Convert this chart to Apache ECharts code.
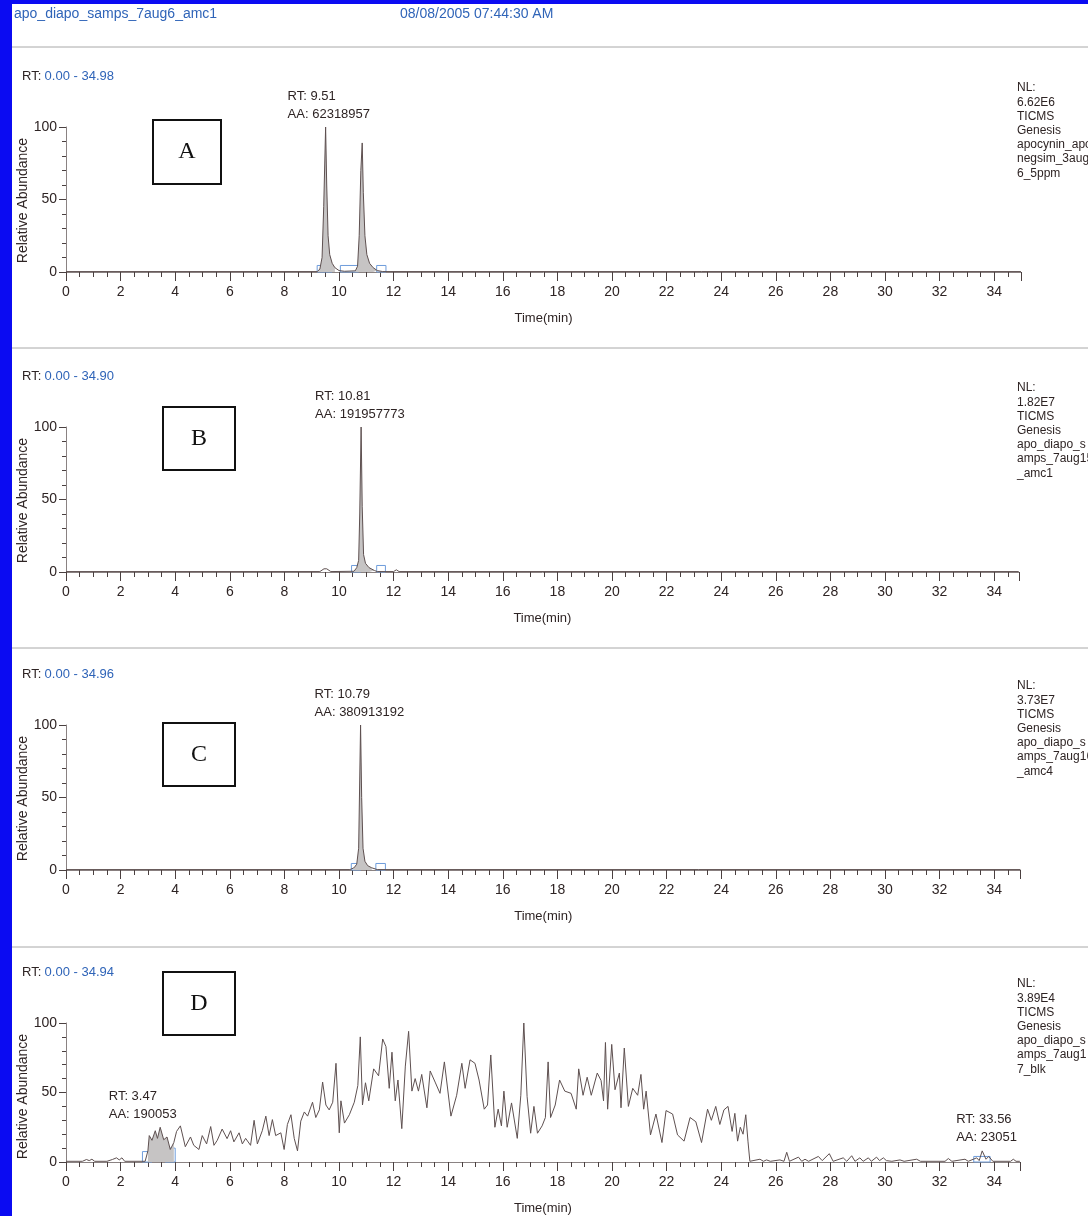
<!DOCTYPE html>
<html>
<head>
<meta charset="utf-8">
<title>TIC chromatograms</title>
<style>
  html, body { margin: 0; padding: 0; background: #fff; }
  #chart { width: 1088px; height: 1216px; }
</style>
<script src="https://cdn.jsdelivr.net/npm/echarts@6/dist/echarts.min.js"></script>
</head>
<body>
<div id="chart"></div>
<script>
// ---- data ----
const panelNames = ['A', 'B', 'C', 'D']
const rtRanges = [34.98, 34.90, 34.96, 34.94]

// [time (min), relative abundance]
const traceA = [[0, 0.3], [9.2, 0.3], [9.3, 2], [9.38, 10], [9.44, 45], [9.51, 100], [9.55, 60], [9.6, 25], [9.66, 12],
  [9.75, 6], [9.85, 3], [10.0, 1], [10.2, 0.5], [10.6, 0.8], [10.68, 4], [10.74, 25], [10.8, 70], [10.85, 89],
  [10.89, 55], [10.95, 25], [11.02, 12], [11.12, 6], [11.25, 3], [11.4, 1], [11.6, 0.3], [34.98, 0.3]]
const traceB = [[0, 0.3], [9.3, 0.3], [9.45, 2.2], [9.55, 2.2], [9.7, 0.3], [10.55, 0.5], [10.65, 3], [10.72, 8],
  [10.76, 40], [10.81, 100], [10.85, 45], [10.9, 12], [10.97, 6], [11.1, 3], [11.3, 1], [11.4, 0.3], [12.0, 0.3],
  [12.1, 1.5], [12.2, 0.3], [34.9, 0.3]]
const traceC = [[0, 0.3], [10.4, 0.3], [10.55, 1.5], [10.65, 4], [10.72, 15], [10.79, 100], [10.83, 50], [10.88, 15],
  [10.95, 6], [11.05, 3], [11.2, 1.5], [11.4, 0.3], [34.96, 0.3]]
const traceD = [[0, 0.5], [0.6, 0.5], [0.75, 1.8], [0.85, 1], [0.95, 2], [1.05, 0.5], [1.5, 0.5], [1.7, 1.8], [1.85, 3],
  [1.95, 1.5], [2.05, 3], [2.15, 0.5], [2.9, 0.5], [3.0, 8], [3.05, 19], [3.15, 15.6], [3.27, 22.5], [3.35, 17],
  [3.45, 25], [3.58, 16], [3.7, 18], [3.82, 9], [3.95, 14], [4.05, 22], [4.19, 26], [4.37, 11], [4.56, 18], [4.68, 12],
  [4.87, 9], [4.99, 19], [5.15, 13], [5.3, 25.5], [5.42, 12], [5.54, 15.6], [5.72, 23.7], [5.9, 16.8], [6.03, 22.5],
  [6.15, 14.5], [6.34, 21], [6.46, 13], [6.58, 17], [6.76, 12], [6.89, 30], [7.01, 13], [7.19, 22.5], [7.32, 33],
  [7.44, 19], [7.56, 30.5], [7.68, 19], [7.87, 21], [7.99, 9], [8.11, 27], [8.24, 34], [8.36, 17], [8.48, 8],
  [8.6, 29.4], [8.73, 36], [8.85, 33], [9.03, 43], [9.15, 32], [9.28, 37.5], [9.4, 57.5], [9.52, 41], [9.64, 37.5],
  [9.77, 43], [9.89, 71], [10.01, 21], [10.07, 44], [10.2, 28], [10.38, 34], [10.56, 43], [10.69, 55], [10.78, 90],
  [10.86, 41], [10.97, 57], [11.09, 44], [11.27, 67], [11.45, 62], [11.6, 88.5], [11.72, 83], [11.84, 53],
  [11.94, 79], [12.06, 44], [12.16, 59], [12.3, 24], [12.43, 69], [12.55, 94], [12.67, 51], [12.79, 60], [12.91, 51],
  [13.03, 63], [13.22, 39], [13.34, 65.5], [13.52, 57.5], [13.7, 49.4], [13.86, 72], [14.1, 33], [14.31, 48],
  [14.5, 71], [14.62, 53], [14.8, 73.5], [14.98, 71], [15.13, 59], [15.32, 38], [15.44, 41], [15.56, 77], [15.71, 25],
  [15.83, 38], [15.95, 26], [16.04, 51], [16.16, 25], [16.32, 42.5], [16.53, 17], [16.66, 48], [16.77, 100],
  [16.89, 47], [17.02, 20.7], [17.14, 40], [17.27, 20.7], [17.44, 26], [17.56, 32], [17.66, 72], [17.75, 32],
  [17.92, 41], [18.08, 59], [18.27, 51], [18.5, 49.4], [18.69, 38], [18.78, 67], [18.94, 48], [19.09, 61], [19.24, 48],
  [19.46, 64], [19.6, 58.6], [19.69, 44], [19.76, 86], [19.84, 38], [19.99, 84.6], [20.11, 52], [20.27, 64],
  [20.33, 39], [20.45, 82], [20.6, 40], [20.76, 53], [20.94, 48], [21.06, 63], [21.16, 38], [21.25, 51], [21.41, 19.5],
  [21.61, 34.5], [21.83, 14], [21.98, 37], [22.22, 34.5], [22.4, 19.5], [22.64, 15], [22.86, 32], [23.07, 29],
  [23.28, 14], [23.5, 38], [23.64, 30], [23.8, 40], [23.95, 27], [24.1, 37.5], [24.25, 40], [24.4, 22], [24.5, 35],
  [24.6, 15], [24.7, 25], [24.8, 20], [24.9, 34], [24.98, 15], [25.05, 0.5], [25.42, 2], [25.55, 0.5], [25.66, 1.5],
  [25.8, 0.5], [26.15, 1.5], [26.3, 0.5], [26.4, 7], [26.5, 0.5], [26.83, 3.5], [26.95, 0.5], [27.07, 2], [27.2, 0.5],
  [27.56, 4], [27.7, 1], [27.96, 6], [28.1, 0.5], [28.47, 3], [28.6, 0.5], [28.78, 4.5], [28.9, 0.5], [29.08, 3],
  [29.2, 0.5], [29.39, 3], [29.5, 0.5], [29.69, 3.5], [29.8, 1], [29.94, 3], [30.05, 1], [30.12, 2], [30.25, 0.5],
  [30.55, 1.5], [30.7, 0.5], [31.16, 2], [31.3, 0.5], [32.2, 0.5], [32.32, 2.5], [32.45, 0.5], [32.93, 2], [33.05, 0.5],
  [33.36, 3], [33.45, 1], [33.56, 8], [33.7, 2], [33.8, 4], [33.95, 0.5], [34.6, 0.5], [34.7, 2], [34.8, 0.5],
  [34.94, 0.5]]

// shaded (integrated) peak ranges [from, to]
const fillA = [[9.2, 9.9], [10.6, 11.45]]
const fillB = [[10.55, 11.35]]
const fillC = [[10.55, 11.35]]
const fillD = [[2.95, 3.95]]

// integration markers [from, to, height]
const boxesA = [[9.2, 9.75, 4.5], [10.05, 10.72, 4.5], [11.38, 11.72, 4.5]]
const boxesB = [[10.46, 10.8, 4.5], [11.38, 11.7, 4.5]]
const boxesC = [[10.45, 10.8, 4.5], [11.35, 11.7, 4.5]]
const boxesD = [[2.8, 3.15, 7.5], [3.63, 4.0, 10], [33.25, 33.85, 4]]

// peak notes [rt, abundance at peak, line 1, line 2]
const notesA = [[9.51, 100, 'RT: 9.51', 'AA: 62318957']]
const notesB = [[10.81, 100, 'RT: 10.81', 'AA: 191957773']]
const notesC = [[10.79, 100, 'RT: 10.79', 'AA: 380913192']]
const notesD = [[3.47, 25, 'RT: 3.47', 'AA: 190053'], [33.56, 8, 'RT: 33.56', 'AA: 23051']]

const infoA = ['NL:', '6.62E6', 'TICMS', 'Genesis', 'apocynin_apoci', 'negsim_3aug0', '6_5ppm']
const infoB = ['NL:', '1.82E7', 'TICMS', 'Genesis', 'apo_diapo_s', 'amps_7aug15', '_amc1']
const infoC = ['NL:', '3.73E7', 'TICMS', 'Genesis', 'apo_diapo_s', 'amps_7aug16', '_amc4']
const infoD = ['NL:', '3.89E4', 'TICMS', 'Genesis', 'apo_diapo_s', 'amps_7aug1', '7_blk']

const headerFile = 'apo_diapo_samps_7aug6_amc1'
const headerDate = '08/08/2005 07:44:30 AM'
const yName = 'Relative Abundance'

// ---- layout ----
const FONT = "'Liberation Sans Narrow', 'Arial Narrow', 'Liberation Sans', Arial, sans-serif"
const DARK = '#2e2424'
const BLUE_TXT = '#2f64b8'
const pxPerMin = 27.3
const plotLeft = 66
const plotTops = [127, 427, 725, 1023]
const plotH = 145
const letterBoxes = [[153, 120, 68, 64], [163, 407, 72, 63], [163, 723, 72, 63], [163, 972, 72, 63]]
const noteShift = [[-38], [-46], [-46], [-52, -26]]
const separators = [47, 348, 648, 947]

const traces = [traceA, traceB, traceC, traceD]
const fills = [fillA, fillB, fillC, fillD]
const boxes = [boxesA, boxesB, boxesC, boxesD]
const notes = [notesA, notesB, notesC, notesD]
const infos = [infoA, infoB, infoC, infoD]

const chart = echarts.init(document.getElementById('chart'))

let grids = [], xAxes = [], yAxes = [], series = []
panelNames.forEach((name, i) => {
  grids.push({ left: plotLeft, top: plotTops[i], width: rtRanges[i] * pxPerMin, height: plotH })
  xAxes.push({
    gridIndex: i, type: 'value', min: 0, max: rtRanges[i], interval: 2,
    name: 'Time(min)', nameLocation: 'middle', nameGap: 40,
    nameTextStyle: { color: DARK, fontSize: 13, fontFamily: FONT },
    axisLine: { onZero: false, lineStyle: { color: '#8a8282', width: 1 } },
    axisTick: { length: 9, lineStyle: { color: '#4a4040' } },
    minorTick: { show: true, splitNumber: 4, length: 5, lineStyle: { color: '#4a4040' } },
    axisLabel: { margin: 13, showMaxLabel: false, color: DARK, fontSize: 14, fontFamily: FONT },
    splitLine: { show: false }
  })
  yAxes.push({
    gridIndex: i, type: 'value', min: 0, max: 100, interval: 50,
    axisLine: { show: true, lineStyle: { color: '#8a8282', width: 1 } },
    axisTick: { show: true, length: 7, lineStyle: { color: '#4a4040' } },
    minorTick: { show: true, splitNumber: 5, length: 4, lineStyle: { color: '#4a4040' } },
    axisLabel: { margin: 9, color: DARK, fontSize: 14, fontFamily: FONT },
    splitLine: { show: false }
  })

  // grey fill under integrated peaks
  fills[i].forEach(rng => {
    series.push({
      type: 'line', xAxisIndex: i, yAxisIndex: i, symbol: 'none', silent: true, z: 2,
      data: traces[i].filter(p => p[0] >= rng[0] && p[0] <= rng[1]),
      lineStyle: { width: 0 },
      areaStyle: { color: '#c6c4c4', opacity: 1 }
    })
  })

  series.push({
    type: 'line', xAxisIndex: i, yAxisIndex: i, symbol: 'none', z: 3,
    data: traces[i],
    lineStyle: { color: '#5e5050', width: 1 },
    markArea: {
      silent: true,
      itemStyle: { color: 'rgba(0,0,0,0)', borderColor: '#6f9ddb', borderWidth: 1 },
      data: boxes[i].map(b => [{ coord: [b[0], 0] }, { coord: [b[1], b[2]] }])
    },
    markPoint: {
      symbol: 'circle', symbolSize: 0, silent: true,
      data: notes[i].map((n, k) => ({
        coord: [n[0], n[1]],
        label: {
          show: true, position: 'top', align: 'left', distance: 4,
          offset: [noteShift[i][k], 0],
          formatter: n[2] + '\n' + n[3],
          color: DARK, fontSize: 13, lineHeight: 18, fontFamily: FONT
        }
      }))
    }
  })
})

let graphics = [
  { type: 'rect', shape: { x: 0, y: 0, width: 12, height: 1216 }, style: { fill: '#0b0bf2' } },
  { type: 'rect', shape: { x: 0, y: 0, width: 1088, height: 4 }, style: { fill: '#0b0bf2' } },
  { type: 'text', x: 14, y: 14, style: { text: headerFile, fill: BLUE_TXT, font: '14px ' + FONT, verticalAlign: 'middle' } },
  { type: 'text', x: 400, y: 14, style: { text: headerDate, fill: BLUE_TXT, font: '14px ' + FONT, verticalAlign: 'middle' } }
]
separators.forEach(y => {
  graphics.push({ type: 'line', shape: { x1: 12, y1: y, x2: 1088, y2: y }, style: { stroke: '#a8a8a8', lineWidth: 1 } })
})
panelNames.forEach((name, i) => {
  const top = plotTops[i]
  const lb = letterBoxes[i]
  graphics.push({
    type: 'text', x: 22, y: top - 51,
    style: {
      text: '{k|RT:} {v|0.00 - ' + rtRanges[i].toFixed(2) + '}',
      verticalAlign: 'middle',
      rich: {
        k: { fill: DARK, font: '13px ' + FONT },
        v: { fill: BLUE_TXT, font: '13px ' + FONT }
      }
    }
  })
  // rotated y axis title
  graphics.push({
    type: 'text', x: 23, y: top + plotH / 2 + 1, rotation: Math.PI / 2,
    style: { text: yName, fill: DARK, font: '14px ' + FONT, align: 'center', verticalAlign: 'middle' }
  })
  graphics.push({ type: 'rect', shape: { x: lb[0], y: lb[1], width: lb[2], height: lb[3] }, style: { fill: 'none', stroke: '#111', lineWidth: 2 } })
  graphics.push({
    type: 'text', x: lb[0] + lb[2] / 2, y: lb[1] + lb[3] / 2,
    style: { text: name, fill: '#111', font: '24px "Liberation Serif", "Times New Roman", serif', align: 'center', verticalAlign: 'middle' }
  })
  graphics.push({
    type: 'text', x: 1017, y: top - 46,
    style: { text: infos[i].join('\n'), fill: DARK, font: '12px ' + FONT, lineHeight: 14.2, verticalAlign: 'top' }
  })
})

chart.setOption({
  animation: false,
  backgroundColor: '#ffffff',
  grid: grids,
  xAxis: xAxes,
  yAxis: yAxes,
  series: series,
  graphic: graphics
})
</script>
</body>
</html>
